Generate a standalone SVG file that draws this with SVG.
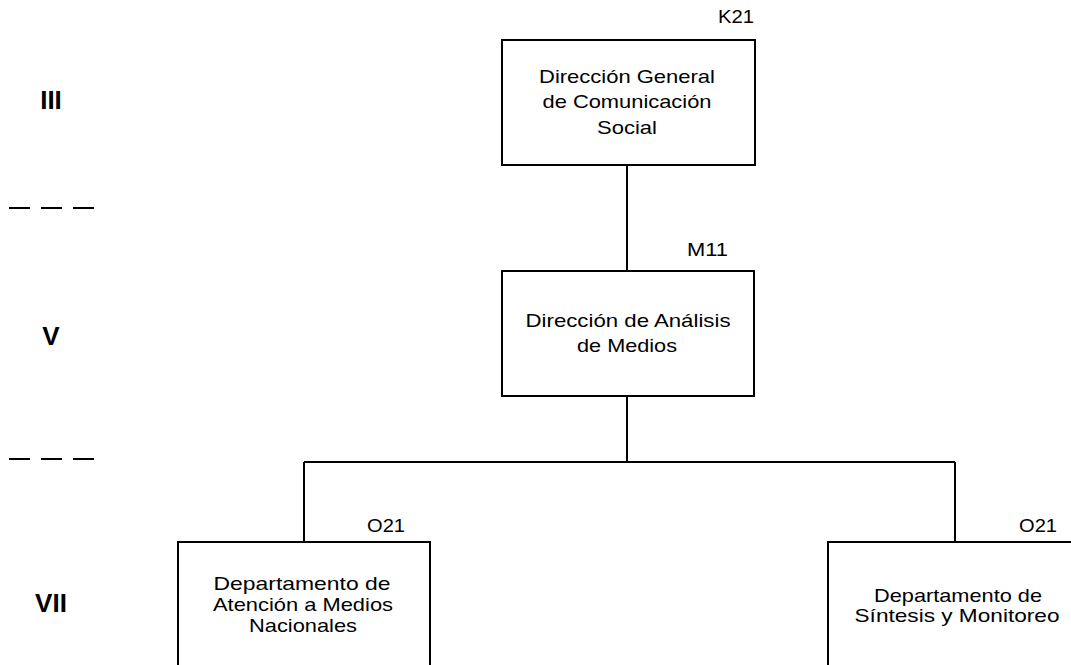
<svg xmlns="http://www.w3.org/2000/svg" width="1071" height="665" viewBox="0 0 1071 665">
<style>
.box{fill:#fff;stroke:#000;stroke-width:2}
.t{font-family:"Liberation Sans",Arial,sans-serif;font-size:19px;fill:#000;text-anchor:middle}
.code{font-family:"Liberation Sans",Arial,sans-serif;font-size:18px;fill:#000;text-anchor:end}
.lvl{font-family:"Liberation Sans",Arial,sans-serif;font-size:26px;font-weight:bold;fill:#000;text-anchor:middle}
.con{fill:none;stroke:#000;stroke-width:2}
.sep{stroke:#000;stroke-width:2;stroke-dasharray:21 11}
</style>
<rect width="1071" height="665" fill="#fff"/>
<g id="levels">
<text class="lvl" x="51" y="109">III</text>
<text class="lvl" x="51" y="345">V</text>
<text class="lvl" x="51" y="612">VII</text>
<line class="sep" x1="9" y1="208" x2="94" y2="208"/>
<line class="sep" x1="9" y1="459" x2="94" y2="459"/>
</g>
<g id="connectors">
<path class="con" d="M627 165V271"/>
<path class="con" d="M627 396V462"/>
<path class="con" d="M304 462H955"/>
<path class="con" d="M304 462V542"/>
<path class="con" d="M955 462V542"/>
</g>
<g id="k21">
<rect class="box" x="502" y="40" width="253" height="125"/>
<text class="code" x="754" y="23" textLength="36" lengthAdjust="spacingAndGlyphs">K21</text>
<text class="t" x="627" y="83" textLength="176" lengthAdjust="spacingAndGlyphs">Dirección General</text>
<text class="t" x="627" y="108" textLength="169" lengthAdjust="spacingAndGlyphs">de Comunicación</text>
<text class="t" x="627" y="134" textLength="60" lengthAdjust="spacingAndGlyphs">Social</text>
</g>
<g id="m11">
<rect class="box" x="502" y="271" width="252" height="125"/>
<text class="code" x="728" y="256" textLength="41" lengthAdjust="spacingAndGlyphs">M11</text>
<text class="t" x="628" y="327" textLength="205" lengthAdjust="spacingAndGlyphs">Dirección de Análisis</text>
<text class="t" x="627" y="352" textLength="100" lengthAdjust="spacingAndGlyphs">de Medios</text>
</g>
<g id="o21a">
<rect class="box" x="178" y="542" width="252" height="160"/>
<text class="code" x="405" y="532" textLength="38" lengthAdjust="spacingAndGlyphs">O21</text>
<text class="t" x="302" y="590" textLength="177" lengthAdjust="spacingAndGlyphs">Departamento de</text>
<text class="t" x="303" y="611" textLength="180" lengthAdjust="spacingAndGlyphs">Atención a Medios</text>
<text class="t" x="303" y="632" textLength="108" lengthAdjust="spacingAndGlyphs">Nacionales</text>
</g>
<g id="o21b">
<rect class="box" x="828" y="542" width="260" height="160"/>
<text class="code" x="1057" y="532" textLength="38" lengthAdjust="spacingAndGlyphs">O21</text>
<text class="t" x="958" y="602" textLength="168" lengthAdjust="spacingAndGlyphs">Departamento de</text>
<text class="t" x="957" y="622" textLength="205" lengthAdjust="spacingAndGlyphs">Síntesis y Monitoreo</text>
</g>
</svg>
